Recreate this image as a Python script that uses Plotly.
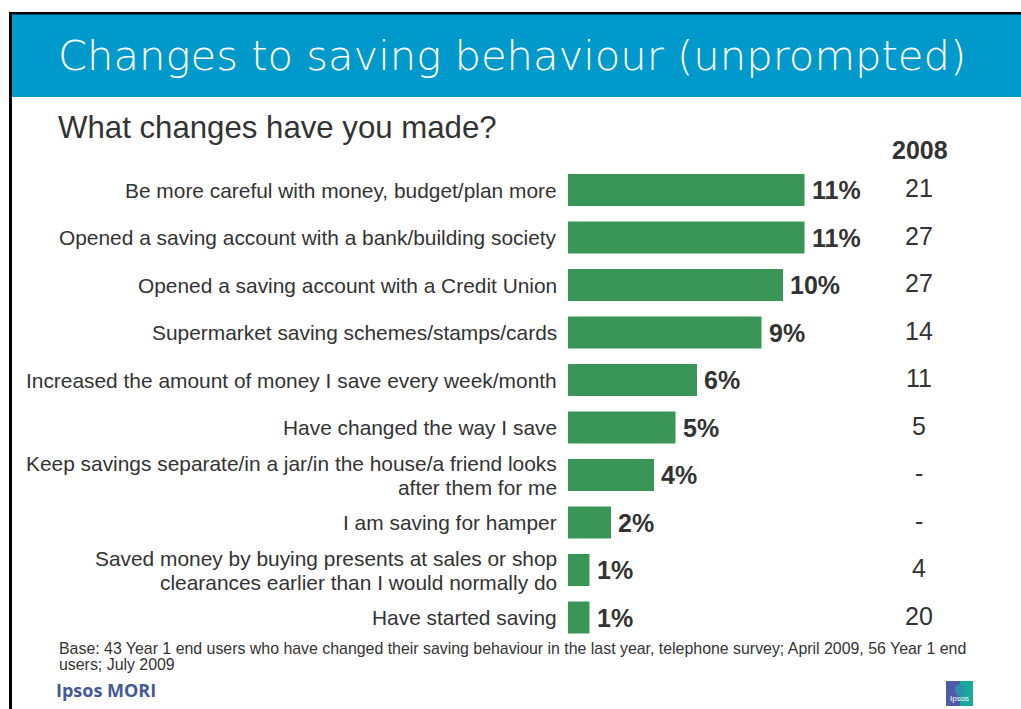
import plotly.graph_objects as go

# Survey answers (top to bottom), current share and 2008 comparison
categories = [
    "Be more careful with money, budget/plan more",
    "Opened a saving account with a bank/building society",
    "Opened a saving account with a Credit Union",
    "Supermarket saving schemes/stamps/cards",
    "Increased the amount of money I save every week/month",
    "Have changed the way I save",
    "Keep savings separate/in a jar/in the house/a friend looks<br>after them for me",
    "I am saving for hamper",
    "Saved money by buying presents at sales or shop<br>clearances earlier than I would normally do",
    "Have started saving",
]
values_2009 = [11, 11, 10, 9, 6, 5, 4, 2, 1, 1]
values_2008 = ["21", "27", "27", "14", "11", "5", "-", "-", "4", "20"]

footnote_lines = [
    "Base: 43 Year 1 end users who have changed their saving behaviour in the last year, telephone survey; April 2009, 56 Year 1 end",
    "users; July 2009",
]

W, H = 1021, 709
FONT = "Arial, Liberation Sans, sans-serif"
TXT = "#333333"
GREEN = "#3A9657"
BLUE = "#0099CC"


def px(x):
    return x / W


def py(y):
    return 1 - y / H


rows = list(range(len(categories)))

fig = go.Figure()
fig.add_trace(go.Bar(
    x=values_2009,
    y=rows,
    orientation="h",
    width=0.67,
    marker=dict(color=GREEN, line=dict(width=0)),
    hoverinfo="skip",
))

annotations = []
# category labels, right-aligned against the bars (tight line spacing)
LINE = 24
for r, label in zip(rows, categories):
    parts = label.split("<br>")
    n = len(parts)
    for k, part in enumerate(parts):
        annotations.append(dict(
            x=px(559), y=r, xref="paper", yref="y", text=part,
            xanchor="right", yanchor="middle", showarrow=False,
            yshift=((n - 1) / 2 - k) * LINE,
            font=dict(family=FONT, size=20.9, color=TXT),
        ))
# value labels at bar ends
for r, v in zip(rows, values_2009):
    annotations.append(dict(
        x=v, y=r, xref="x", yref="y", text=f"<b>{v}%</b>",
        xanchor="left", yanchor="middle", xshift=5, showarrow=False,
        font=dict(family=FONT, size=25, color=TXT),
    ))
# 2008 column
for r, v in zip(rows, values_2008):
    annotations.append(dict(
        x=px(919), y=r, xref="paper", yref="y", text=v,
        xanchor="center", yanchor="middle", yshift=2, showarrow=False,
        font=dict(family=FONT, size=25, color=TXT),
    ))
# footnote, two lines
for k, line in enumerate(footnote_lines):
    annotations.append(dict(
        x=px(57), y=py(648 + 16 * k), xref="paper", yref="paper", text=line,
        xanchor="left", yanchor="middle", showarrow=False,
        font=dict(family=FONT, size=15.9, color=TXT),
    ))
annotations += [
    dict(x=px(920), y=py(150), xref="paper", yref="paper", text="<b>2008</b>",
         xanchor="center", yanchor="middle", showarrow=False,
         font=dict(family=FONT, size=25, color=TXT)),
    dict(x=px(56), y=py(56), xref="paper", yref="paper",
         text="Changes to saving behaviour (unprompted)",
         xanchor="left", yanchor="middle", showarrow=False,
         font=dict(family="DejaVu Sans", size=41.7, color="white", weight=300)),
    dict(x=px(56), y=py(128), xref="paper", yref="paper",
         text="What changes have you made?",
         xanchor="left", yanchor="middle", showarrow=False,
         font=dict(family=FONT, size=31.2, color=TXT)),
    dict(x=px(54), y=py(690), xref="paper", yref="paper",
         text="<b>Ipsos MORI</b>",
         xanchor="left", yanchor="middle", showarrow=False,
         font=dict(family="Open Sans", size=18, color="#44599C")),
    dict(x=px(959), y=py(698), xref="paper", yref="paper",
         text="Ipsos",
         xanchor="center", yanchor="middle", showarrow=False,
         font=dict(family=FONT, size=8, color="white")),
]

shapes = [
    # title band
    dict(type="rect", xref="paper", yref="paper", x0=px(11), x1=1, y0=py(97), y1=py(14),
         fillcolor=BLUE, line=dict(width=0), layer="below"),
    # slide frame
    dict(type="line", xref="paper", yref="paper", x0=px(10.5), x1=px(10.5), y0=0, y1=py(12),
         line=dict(color="black", width=3)),
    dict(type="line", xref="paper", yref="paper", x0=px(9), x1=1, y0=py(13.2), y1=py(13.2),
         line=dict(color="black", width=2.5)),
    # Ipsos mark
    dict(type="rect", xref="paper", yref="paper", x0=px(946), x1=px(960), y0=py(706), y1=py(681),
         fillcolor="#4E5BA6", line=dict(width=0)),
    dict(type="rect", xref="paper", yref="paper", x0=px(960), x1=px(973), y0=py(706), y1=py(681),
         fillcolor="#1AA99E", line=dict(width=0)),
    dict(type="circle", xref="paper", yref="paper", x0=px(955), x1=px(965), y0=py(696), y1=py(684),
         fillcolor="#2E8FB0", line=dict(width=0)),
]

fig.update_layout(
    width=W, height=H,
    margin=dict(l=0, r=0, t=0, b=0),
    paper_bgcolor="white", plot_bgcolor="white",
    showlegend=False,
    bargap=0.33,
    xaxis=dict(range=[0, 20], domain=[px(568), px(998)], visible=False, fixedrange=True),
    yaxis=dict(
        range=[9.5, -0.5], domain=[py(641.25), py(166.25)],
        visible=False, fixedrange=True,
    ),
    annotations=annotations,
    shapes=shapes,
)

fig.write_html("out.html")
